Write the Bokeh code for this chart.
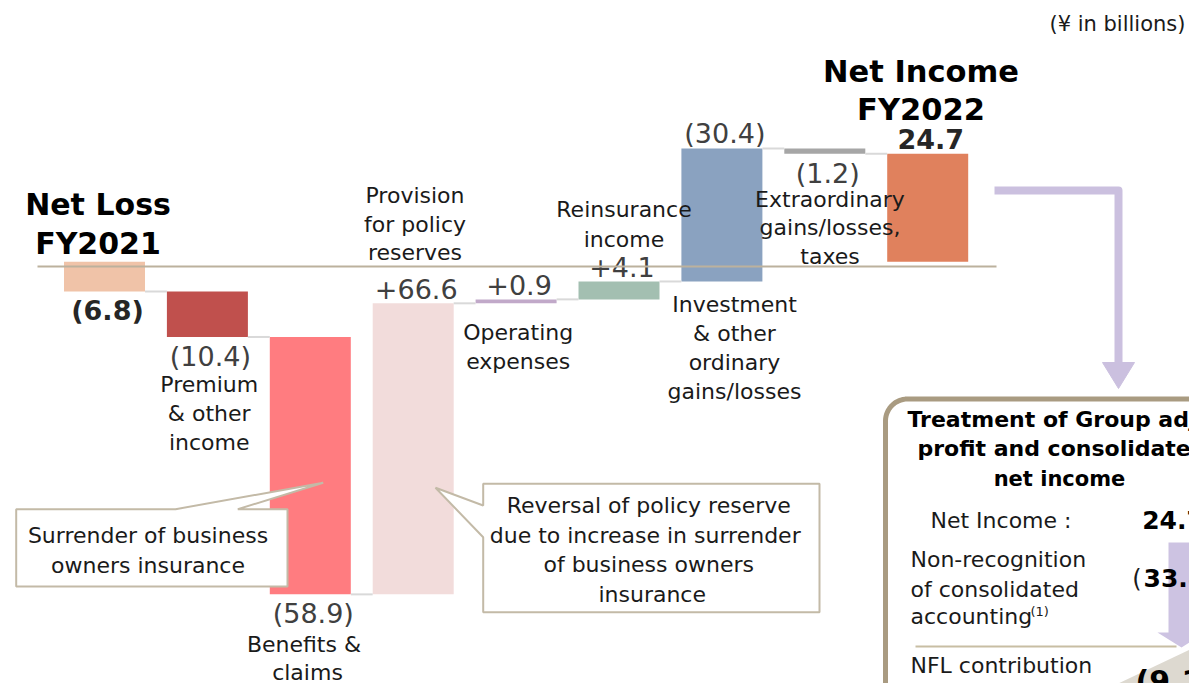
import numpy as np
from bokeh.plotting import figure
from bokeh.models import Range1d
from bokeh.core.properties import value
from bokeh.embed import file_html
from bokeh.resources import INLINE

# ---------------- data ----------------
categories = [
    ["Net Loss", "FY2021"],
    ["Premium", "& other", "income"],
    ["Benefits  &", "claims"],
    ["Provision", "for policy", "reserves"],
    ["Operating", "expenses"],
    ["Reinsurance", "income"],
    ["Investment", "& other", "ordinary", "gains/losses"],
    ["Extraordinary", "gains/losses,", "taxes"],
    ["Net Income", "FY2022"],
]
start_value = -6.8
changes = [-10.4, -58.9, 66.6, 0.9, 4.1, 30.4, -1.2]
end_value = 24.7
value_labels = ["(6.8)", "(10.4)", "(58.9)", "+66.6", "+0.9", "+4.1", "(30.4)", "(1.2)", "24.7"]
bold_values = [True, False, False, False, False, False, False, False, True]
bar_colors = ["#F0C3A8", "#C0504D", "#FF7C80", "#F2DCDB", "#C1A9C9",
              "#A3BFB1", "#8AA2C0", "#A6A6A6", "#E0815D"]
unit_note = "(¥ in billions)"
callout_left = ["Surrender  of business", "owners  insurance"]
callout_right = ["Reversal  of policy reserve", "due to  increase  in surrender",
                 "of business  owners", "insurance"]
box_title = ["Treatment  of  Group adjusted", "profit  and consolidated", "net income"]
box_rows = ["Net Income :", "Non-recognition", "of consolidated", "accounting", "NFL contribution"]
box_values = ["24.7", "33.8)", "(9.1)"]

# ---------------- waterfall geometry from data ----------------
cum = start_value + np.cumsum(changes)
bottoms = [0.0] + [start_value] + list(cum[:-1]) + [0.0]
tops = [start_value] + list(cum) + [end_value]
n = len(tops)
idx = list(range(n))

# pixel <-> data mapping (reference image pixels)
STEP = 102.9      # px per category
X0 = 104.0        # px of first category centre
K = 4.37          # px per billion
Z0 = 261.3        # px of zero value
def X(px):
    return (px - X0) / STEP
def Y(py):
    return (Z0 - py) / K

W, H = 1189, 683
p = figure(width=W, height=H, output_backend="svg", toolbar_location=None,
           x_axis_location=None, y_axis_location=None, min_border=0,
           x_range=Range1d(X(0), X(W)), y_range=Range1d(Y(H), Y(0)))
p.grid.visible = False
p.outline_line_color = None
p.background_fill_color = "white"
p.border_fill_color = "white"

FONT = value("DejaVu Sans")
BW = 81 / STEP
BASE_FIX = 0.36   # alphabetic baseline correction (fraction of font size)

# bars
p.vbar(x=idx, width=BW, bottom=bottoms, top=tops, fill_color=bar_colors, line_color=None)

# connectors
levels = [start_value] + list(cum)
p.segment(x0=[i + BW / 2 for i in range(n - 1)], x1=[i + 1 - BW / 2 for i in range(n - 1)],
          y0=levels, y1=levels, line_color="#D9D9D9", line_width=2)

def put(px, py, s, size, bold=False, align="center", color="#1a1a1a"):
    p.text(x=[X(px)], y=[Y(py - BASE_FIX * size)], text=[s], text_font=FONT,
           text_font_size=f"{size}px",
           text_font_style="bold" if bold else "normal", text_align=align,
           text_baseline="alphabetic", text_color=color)

# value labels: above rising bars, below falling bars
VS = 27
for i in range(n):
    up = tops[i] > bottoms[i]
    yv = max(tops[i], bottoms[i]) if up else min(tops[i], bottoms[i])
    off = (-5 if up else 29) - BASE_FIX * VS
    p.text(x=[i], y=[yv], text=[value_labels[i]], x_offset=3, y_offset=off,
           text_font=FONT, text_font_size=f"{VS}px",
           text_font_style="bold" if bold_values[i] else "normal",
           text_color="#262626" if bold_values[i] else "#404040",
           text_align="center", text_baseline="alphabetic")

# category labels
cat_pos = [(97.5, 214.3, 39, 30, True), (208.7, 392.3, 29, 22, False), (307, 652.3, 28, 22, False),
           (414.5, 203.3, 28.5, 22, False), (517.7, 340, 28.5, 22, False), (623.5, 216.7, 30, 22, False),
           (734, 311.7, 29.2, 22, False), (829.5, 206.7, 28.5, 22, False), (920.5, 82.3, 37.7, 30.5, True)]
for lines, (cx, by, sp, fs, bd) in zip(categories, cat_pos):
    for k, s in enumerate(lines):
        put(cx, by + k * sp, s, fs, bold=bd, color="#000000" if bd else "#1a1a1a")

put(1185, 31, unit_note, 21, align="right", color="#1a1a1a")

# callouts
def poly(pts, fill="white", line="#C3BAA7", lw=2):
    xs = [X(a) for a, b in pts]
    ys = [Y(b) for a, b in pts]
    p.patch(xs, ys, fill_color=fill, line_color=line, line_width=lw)

poly([(15.7, 508.7), (175, 508.7), (322.7, 482.3), (237.3, 508.7), (287, 508.7),
      (287, 586), (15.7, 586)])
for k, s in enumerate(callout_left):
    put(151, 543.3 + k * 29.4, s, 22)

poly([(482.7, 483.3), (819, 483.3), (819, 611.7), (482.7, 611.7), (482.7, 536.7),
      (435, 487.3), (482.7, 505)])
for k, s in enumerate(callout_right):
    put(651.7, 513.3 + k * 29.5, s, 22)

# baseline (zero) line
p.line([X(37), X(996)], [Y(266), Y(266)], line_color="#BCB19D", line_width=2)

# purple connector arrow
PUR = "#CBC0DF"
p.line([X(994), X(1118), X(1118)], [Y(190), Y(190), Y(365)], line_color=PUR, line_width=8,
       line_join="round")
poly([(1102, 362), (1134, 362), (1118, 388)], fill=PUR, line=PUR, lw=1)

# rounded info box
r = 22
th = np.linspace(np.pi, 1.5 * np.pi, 16)
arc_x = 885 + r + r * np.cos(th)
arc_y = 398.5 + r + r * np.sin(th)
bx = [885] + list(arc_x) + [1210, 1210]
by_ = [700] + list(arc_y) + [398.5, 700]
p.patch([X(a) for a in bx], [Y(b) for b in by_], fill_color="white", line_color=None)
p.line([X(a) for a in bx[:-1]], [Y(b) for b in by_[:-1]], line_color="#A99B81", line_width=5)

# inner decorations
poly([(1103, 690), (1200, 644), (1200, 690)], fill="#DDD9D0", line=None, lw=0)
poly([(1168, 542), (1194, 542), (1194, 632), (1205, 632), (1181, 647), (1157, 632), (1168, 632)],
     fill="#CDC3E2", line=None, lw=0)
p.line([X(915), X(1176)], [Y(646), Y(646)], line_color="#C8BEA3", line_width=2)

put(907, 427, box_title[0], 22, bold=True, align="left", color="#000000")
put(917, 456, box_title[1], 22, bold=True, align="left", color="#000000")
put(1059, 486, box_title[2], 21, bold=True, color="#000000")
put(930, 528, box_rows[0], 22, align="left")
put(910, 566.7, box_rows[1], 22, align="left")
put(910, 596.7, box_rows[2], 22, align="left")
put(910, 624, box_rows[3], 22, align="left")
put(1030, 616, "(1)", 13, align="left")
put(910, 673.3, box_rows[4], 22, align="left")
put(1141.7, 528, box_values[0], 25, bold=True, align="left", color="#000000")
put(1131.7, 587, "(", 24, align="left")
put(1143, 587, box_values[1], 25, bold=True, align="left", color="#000000")
put(1135, 692, box_values[2], 30, bold=True, align="left", color="#000000")

open("out.html", "w").write(file_html(p, INLINE))
